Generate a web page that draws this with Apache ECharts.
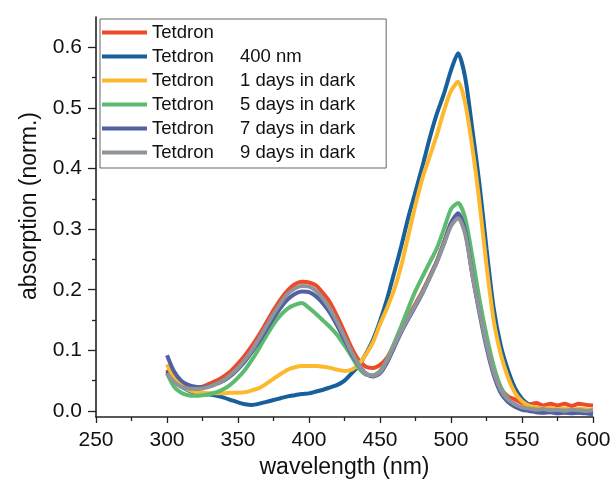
<!DOCTYPE html>
<html>
<head>
<meta charset="utf-8">
<script src="https://cdn.jsdelivr.net/npm/echarts@6/dist/echarts.min.js"></script>
<style>
html,body{margin:0;padding:0;background:#fff;}
#c{width:614px;height:484px;}
</style>
</head>
<body>
<div id="c"></div>
<script>
// wavelengths (nm), 300..600 step 5
const wavelength = [300,305,310,315,320,325,330,335,340,345,350,355,360,365,370,375,380,385,390,395,400,405,410,415,420,425,430,435,440,445,450,455,460,465,470,475,480,485,490,495,500,505,510,515,520,525,530,535,540,545,550,555,560,565,570,575,580,585,590,595,600];

const tetdron = [0.068,0.052,0.043,0.040,0.039,0.040,0.045,0.050,0.057,0.066,
  0.078,0.092,0.108,0.126,0.146,0.166,0.184,0.199,0.209,0.213,
  0.212,0.207,0.194,0.178,0.155,0.130,0.104,0.084,0.073,0.071,
  0.076,0.088,0.110,0.134,0.156,0.177,0.198,0.222,0.247,0.278,
  0.310,0.325,0.296,0.228,0.168,0.112,0.066,0.038,0.024,0.019,
  0.013,0.011,0.013,0.009,0.012,0.009,0.012,0.008,0.012,0.010,0.009];

const tetdron400 = [0.065,0.050,0.040,0.034,0.030,0.028,0.027,0.025,0.022,0.018,
  0.014,0.011,0.010,0.012,0.015,0.018,0.021,0.024,0.026,0.028,
  0.029,0.032,0.035,0.039,0.043,0.050,0.062,0.075,0.094,0.117,
  0.148,0.185,0.228,0.272,0.320,0.362,0.405,0.450,0.490,0.523,
  0.562,0.590,0.550,0.465,0.375,0.268,0.170,0.108,0.068,0.038,
  0.020,0.010,0.004,0.001,0.000,-0.002,-0.001,-0.003,-0.002,-0.003,-0.004];

const dark1 = [0.077,0.055,0.042,0.035,0.031,0.030,0.029,0.029,0.029,0.030,
  0.030,0.031,0.034,0.038,0.045,0.053,0.061,0.068,0.072,0.074,
  0.074,0.074,0.073,0.071,0.068,0.066,0.068,0.077,0.093,0.113,
  0.143,0.170,0.200,0.240,0.290,0.340,0.385,0.420,0.455,0.495,
  0.528,0.543,0.508,0.435,0.345,0.240,0.150,0.094,0.056,0.030,
  0.016,0.009,0.006,0.004,0.005,0.003,0.004,0.002,0.004,0.003,0.002];

const dark5 = [0.062,0.040,0.030,0.026,0.025,0.026,0.028,0.031,0.036,0.044,
  0.055,0.068,0.085,0.104,0.124,0.143,0.158,0.169,0.175,0.178,
  0.170,0.160,0.149,0.138,0.125,0.108,0.090,0.071,0.060,0.059,
  0.066,0.085,0.112,0.140,0.170,0.198,0.222,0.245,0.268,0.300,
  0.333,0.343,0.318,0.255,0.185,0.125,0.075,0.040,0.020,0.010,
  0.005,0.003,0.002,0.001,0.002,0.000,0.001,-0.001,0.001,0.000,-0.001];

const dark7 = [0.092,0.065,0.050,0.043,0.040,0.039,0.041,0.045,0.050,0.058,
  0.069,0.082,0.098,0.115,0.134,0.153,0.170,0.184,0.193,0.197,
  0.196,0.189,0.177,0.161,0.140,0.117,0.094,0.076,0.062,0.057,
  0.062,0.080,0.105,0.130,0.152,0.173,0.195,0.220,0.246,0.277,
  0.310,0.326,0.298,0.225,0.162,0.105,0.060,0.030,0.015,0.007,
  0.002,0.000,-0.002,-0.003,-0.002,-0.004,-0.003,-0.004,-0.003,-0.004,-0.005];

const dark9 = [0.062,0.048,0.040,0.037,0.036,0.037,0.040,0.045,0.051,0.060,
  0.071,0.085,0.101,0.120,0.140,0.160,0.178,0.193,0.202,0.206,
  0.205,0.198,0.185,0.168,0.146,0.122,0.097,0.077,0.062,0.058,
  0.064,0.083,0.108,0.132,0.154,0.175,0.196,0.220,0.245,0.275,
  0.305,0.318,0.292,0.225,0.165,0.110,0.065,0.035,0.019,0.011,
  0.006,0.004,0.002,0.003,0.001,0.002,0.000,0.002,0.001,0.000,0.001];

const sampleName = 'Tetdron';
const conditions = ['', '400 nm', '1 days in dark', '5 days in dark', '7 days in dark', '9 days in dark'];
const seriesValues = [tetdron, tetdron400, dark1, dark5, dark7, dark9];
const seriesColors = ['#EC4A2A', '#17609B', '#FDB92E', '#5DBB6F', '#5160A3', '#8F9499'];

const yMajorTicks = [0.0, 0.1, 0.2, 0.3, 0.4, 0.5, 0.6];
const yMinorTicks = [0.05, 0.15, 0.25, 0.35, 0.45, 0.55];

const FONT = '"Liberation Sans", Arial, Helvetica, sans-serif';
const AX = '#222';

const series = seriesValues.map((vals, i) => ({
  name: sampleName + '|' + conditions[i],
  type: 'line',
  data: wavelength.map((w, k) => [w, vals[k]]),
  showSymbol: false,
  symbol: 'none',
  smooth: 0.25,
  lineStyle: {width: 4, color: seriesColors[i]},
  itemStyle: {color: seriesColors[i]},
  silent: true
}));

const chart = echarts.init(document.getElementById('c'), null, {renderer: 'canvas'});
chart.setOption({
  animation: false,
  backgroundColor: '#ffffff',
  textStyle: {fontFamily: FONT},
  grid: {left: 96, right: 21, top: 17, bottom: 67},
  legend: {
    orient: 'vertical',
    left: 100,
    top: 19,
    icon: 'rect',
    itemWidth: 45,
    itemHeight: 4,
    itemGap: 5,
    padding: [4, 31, 6, 2],
    borderColor: '#666',
    borderWidth: 1,
    backgroundColor: '#fff',
    selectedMode: false,
    textStyle: {
      fontFamily: FONT, fontSize: 18.5, color: '#111', lineHeight: 18,
      rich: {
        a: {width: 88, fontSize: 18.5, lineHeight: 18, color: '#111', fontFamily: FONT},
        b: {fontSize: 18.5, lineHeight: 18, color: '#111', fontFamily: FONT}
      }
    },
    formatter: function (name) {
      const p = name.split('|');
      return '{a|' + p[0] + '}' + (p[1] ? '{b|' + p[1] + '}' : '');
    },
    data: series.map(s => s.name)
  },
  xAxis: {
    type: 'value',
    min: 250, max: 600, interval: 50,
    name: 'wavelength (nm)',
    nameLocation: 'middle',
    nameGap: 36,
    nameTextStyle: {fontSize: 23, color: '#111', fontFamily: FONT},
    axisLine: {show: true, onZero: false, lineStyle: {color: AX, width: 1.6}},
    axisTick: {show: true, inside: false, length: 6, lineStyle: {color: AX, width: 1.3}},
    minorTick: {show: true, splitNumber: 2, length: 4, lineStyle: {color: AX, width: 1.3}},
    axisLabel: {fontSize: 21, color: '#111', margin: 13, fontFamily: FONT},
    splitLine: {show: false},
    minorSplitLine: {show: false}
  },
  yAxis: [{
    type: 'value',
    min: -0.01, max: 0.65,
    name: 'absorption (norm.)',
    nameLocation: 'middle',
    nameGap: 55,
    nameTextStyle: {fontSize: 23, color: '#111', fontFamily: FONT, padding: [0, 0, 0, 22]},
    axisLine: {show: true, onZero: false, lineStyle: {color: AX, width: 1.6}},
    axisTick: {show: true, inside: false, length: 8, customValues: yMajorTicks, lineStyle: {color: AX, width: 1.3}},
    axisLabel: {fontSize: 21, color: '#111', margin: 14, customValues: yMajorTicks, fontFamily: FONT,
      formatter: v => v.toFixed(1)},
    splitLine: {show: false}
  }, {
    type: 'value',
    min: -0.01, max: 0.65,
    position: 'left',
    axisLine: {show: false},
    axisTick: {show: true, inside: false, length: 4, customValues: yMinorTicks, lineStyle: {color: AX, width: 1.3}},
    axisLabel: {show: false},
    splitLine: {show: false}
  }],
  series: series
});
</script>
</body>
</html>
